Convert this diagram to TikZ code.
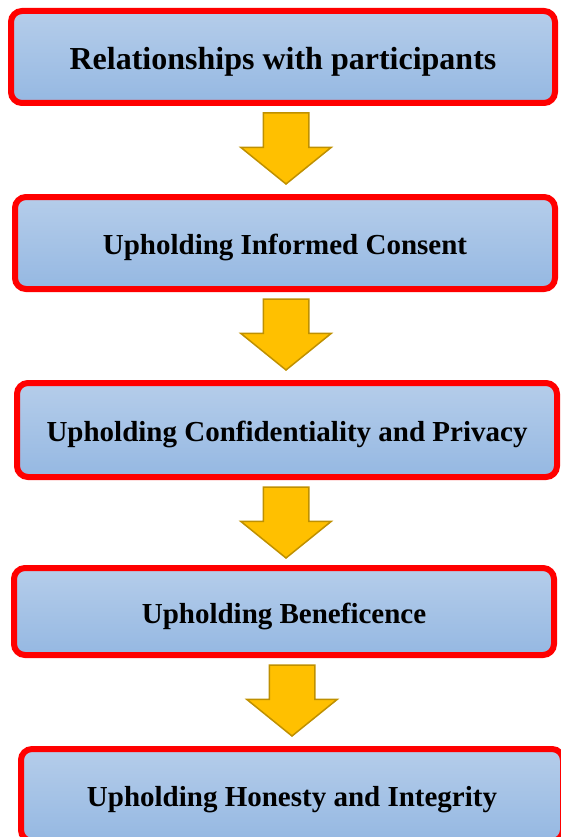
\documentclass[tikz,border=0pt]{standalone}
\usepackage{fontspec}
\setmainfont{Liberation Serif}
\usetikzlibrary{shapes.arrows}
\definecolor{boxtop}{RGB}{181,205,234}
\definecolor{boxbottom}{RGB}{149,184,226}
\definecolor{arrowfill}{RGB}{255,192,0}
\definecolor{arrowline}{RGB}{191,144,0}
\tikzset{
    stage/.style={draw=red, line width=6pt, rounded corners=11pt, top color=boxtop, bottom color=boxbottom,
        minimum width=540pt, minimum height=92pt, inner sep=0pt, text height=23pt, text depth=0pt,
        font=\fontsize{29}{34}\selectfont\bfseries},
    downarrow/.style={single arrow, shape border rotate=270, draw=arrowline, fill=arrowfill, line width=1.5pt,
        minimum width=89pt, minimum height=71pt, single arrow head extend=22.5pt, single arrow tip angle=102,
        inner sep=22pt, outer sep=0pt, anchor=tip}
}
\begin{document}
\begin{tikzpicture}[x=1pt,y=-1pt]
    \useasboundingbox (0,0) rectangle (560,837);
    \node[stage, minimum width=544pt, text height=25pt, font=\fontsize{32}{38}\selectfont\bfseries] (rel) at (283,57) {Relationships with participants};
    \node[stage] (consent) at (285,243) {Upholding Informed Consent};
    \node[stage, minimum height=94pt] (privacy) at (287,430) {Upholding Confidentiality and Privacy};
    \node[stage, minimum height=87pt] (benef) at (284,611.5) {Upholding Beneficence};
    \node[stage, minimum width=542pt] (honesty) at (292,795) {Upholding Honesty and Integrity};
    \node[downarrow] (a1) at (286,184) {};
    \node[downarrow] (a2) at (286,370) {};
    \node[downarrow] (a3) at (286,558) {};
    \node[downarrow] (a4) at (292,736) {};
\end{tikzpicture}
\end{document}
